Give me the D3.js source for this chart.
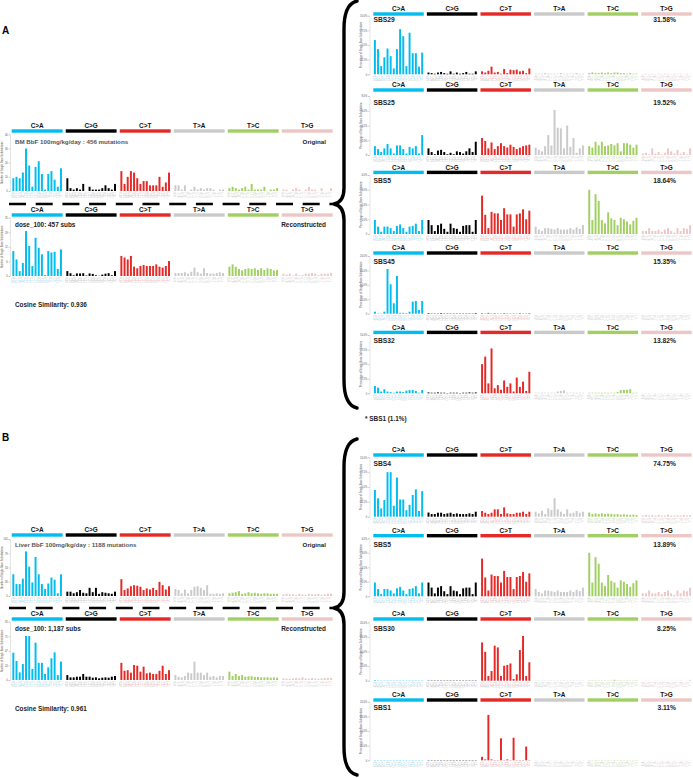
<!DOCTYPE html>
<html><head><meta charset="utf-8">
<script src="https://cdn.jsdelivr.net/npm/d3@7"></script>
<style>body{margin:0;background:#fff;} svg{display:block;font-family:"Liberation Sans",Arial,Helvetica,sans-serif;}</style>
</head><body><svg id="c" width="693" height="778"></svg>
<script>
// ---------------- DATA ----------------
const mutationTypes = ["C>A","C>G","C>T","T>A","T>C","T>G"];
const flank5 = ["A","C","G","T"];
const flank3 = ["A","C","G","T"];

// BM BbF 100mg/kg/day – original counts (456 mutations)
const bmOriginal = [
 9,10,9,13,30,18,3,17,21,12,1,12,14,8,3,16,
 9,2,1,2,1,5,0,3,1,1,1,2,4,2,1,5,
 14,5,10,14,13,9,5,7,7,4,4,4,10,3,6,13,
 4,4,1,4,0,1,3,1,2,1,2,2,1,0,1,1,
 2,3,2,1,2,3,1,5,1,1,1,3,0,1,1,2,
 1,1,0,1,2,1,0,1,3,1,1,0,2,0,0,2];
const bmOriginalTicks = [0,10,20,30,40];
const bmOriginalTickLabels = ["0","10","20","30","40"];

// dose_100 reconstructed (457 subs)
const bmReconstructed = [
 10.7,7.1,2.1,5.6,19.3,12.9,4.3,16.4,12.1,9.3,0.4,10.7,10.1,10.4,3.0,11.4,
 2.1,1.2,0.3,1.1,1.1,1.2,0.2,1.1,0.9,0.3,0.1,0.6,1.0,1.2,0.3,2.1,
 8.6,7.9,7.1,8.6,4.0,3.3,4.3,4.7,4.3,4.3,4.3,5.0,4.0,3.6,4.3,6.4,
 1.3,1.3,1.3,1.6,1.0,1.8,3.6,1.6,1.0,3.3,1.3,1.0,1.0,1.3,1.6,1.3,
 4.0,5.0,4.0,3.0,2.4,3.0,3.3,3.0,3.3,2.6,3.3,2.6,3.3,3.0,2.4,2.6,
 1.0,0.6,1.0,0.3,1.0,0.3,0.4,1.0,1.0,1.3,1.0,0.4,1.0,1.0,1.0,1.3];
const bmReconTicks = [0,6.25,12.5,18.75,25];
const bmReconTickLabels = ["0","6","12","19","25"];

// Liver BbF 100mg/kg/day – original counts (1188 mutations)
const liverOriginal = [
 40,22,22,32,82,54,25,72,40,22,13,23,34,30,5,40,
 8,8,5,7,11,6,5,15,7,15,4,7,6,5,4,8,
 31,11,14,18,20,19,17,11,14,12,15,11,26,20,12,18,
 13,11,5,12,5,11,17,18,15,11,20,4,4,5,4,5,
 5,6,7,9,4,5,7,5,6,5,4,5,5,4,4,4,
 3,4,3,3,2,4,3,2,4,3,3,4,2,3,4,4];
const liverOriginalTicks = [0,26.25,52.5,78.75,105];
const liverOriginalTickLabels = ["0","26","53","79","105"];

// Liver dose_100 reconstructed (1,187 subs)
const liverReconstructed = [
 44.5,31,12.5,26,71.7,71.7,18,60.8,28,28,9.8,20.6,35.3,45,8,30,
 8,4.3,4.3,5.4,5.4,9.8,5.4,5.4,3.8,4.3,2.7,3.8,4.3,3.8,5.4,6.5,
 28,15,16,12,24.4,23.3,13.6,21.7,10.9,12,9.8,9.8,15,23.3,9.8,16,
 8,5.4,4.3,6.5,12,10.9,30,12,12,8,12,5.4,6.5,4.3,6.5,6.5,
 13.6,6.5,9.8,6.5,8,5.4,6,6,5,5,4.3,4.3,4.5,3.8,4.3,3.8,
 2.7,2.2,2.2,2.7,3.3,2.7,4.3,2.7,2.2,3.3,2.2,2.2,2.7,3.3,3.3,3.3];
const liverReconTicks = [0,23.75,47.5,71.25,95];
const liverReconTickLabels = ["0","24","47","71","95"];

// COSMIC signatures (percent of SBS)
const sbs29 = [
 5.85,4.3,1.4,2.9,4.4,3.1,1.0,4.3,7.7,6.5,1.4,7.1,3.6,3.6,1.3,3.7,
 0.3,0.2,0.1,0.3,0.4,0.2,0.1,0.5,0.1,0.3,0.1,0.2,0.4,0.1,0.1,0.5,
 0.5,0.3,0.6,1.3,0.3,0.4,0.1,0.9,0.2,0.8,0.7,0.8,0.5,0.6,0.2,1.0,
 0.1,0.1,0.1,0.2,0.1,0.1,0.1,0.1,0.2,0.1,0.1,0.1,0.1,0.2,0.1,0.1,
 0.2,0.3,0.2,0.2,0.3,0.2,0.3,0.2,0.3,0.3,0.2,0.2,0.1,0.2,0.1,0.1,
 0.05,0.1,0.05,0.1,0.05,0.1,0.05,0.1,0.1,0.05,0.1,0.05,0.1,0.05,0.1,0.05];
const sbs25 = [
 1.2,0.8,0.4,0.9,1.5,0.9,0.2,1.3,1.3,0.8,0.2,1.1,0.9,1.2,0.2,2.7,
 0.9,0.4,0.1,0.6,0.7,0.4,0.1,0.3,0.1,0.5,0.4,0.2,0.5,0.9,0.4,1.8,
 2.3,1.9,0.9,1.7,0.8,1.2,1.6,1.2,1.0,1.4,1.1,0.8,1.0,1.2,1.3,1.4,
 1.0,0.7,0.5,1.2,2.7,1.3,6.1,3.7,3.6,0.9,4.0,1.1,2.3,0.3,0.9,1.3,
 1.2,1.0,1.8,1.3,1.8,1.2,1.3,1.5,1.3,1.6,0.5,1.6,1.6,1.4,1.0,1.4,
 0.2,0.3,0.1,0.9,0.2,0.4,0.1,0.3,0.9,0.5,0.2,0.7,0.2,0.4,0.1,0.9];
const sbs5 = [
 0.95,0.5,0.15,0.5,0.5,0.4,0.2,0.55,0.65,0.4,0.15,0.5,0.55,0.7,0.2,0.95,
 0.95,0.6,0.2,0.6,0.7,0.35,0.15,0.7,0.4,0.35,0.15,0.55,0.6,0.6,0.15,0.95,
 2.6,1.3,0.4,1.5,1.4,1.4,0.95,1.75,1.33,1.33,0.5,1.33,1.4,1.67,1.0,1.58,
 0.5,0.3,0.2,0.4,0.4,0.35,0.3,0.4,0.3,0.3,0.3,0.4,0.3,0.45,0.35,0.6,
 3.0,0.95,2.7,2.24,0.95,0.72,1.47,1.06,0.95,0.6,1.1,1.0,0.85,0.65,0.9,1.1,
 0.2,0.2,0.4,0.2,0.2,0.3,0.15,0.3,0.4,0.2,0.1,0.4,0.2,0.4,0.35,0.6];
const sbs45 = [
 0.7,0.1,0.1,0.7,15.5,10.2,3.6,13.1,0.3,0.3,0.2,0.7,4.2,4.4,1.3,4.4,
 0.2,0.1,0.1,0.1,0.2,0.1,0.1,0.1,0.1,0.1,0.1,0.1,0.1,0.1,0.1,0.2,
 0.2,0.1,0.3,0.1,0.2,0.1,0.1,0.2,0.1,0.1,0.1,0.1,0.2,0.1,0.1,0.2,
 0.05,0.05,0.05,0.05,0.05,0.05,0.05,0.05,0.05,0.05,0.05,0.05,0.05,0.05,0.05,0.05,
 0.05,0.05,0.05,0.05,0.05,0.05,0.05,0.05,0.05,0.05,0.05,0.05,0.05,0.05,0.05,0.05,
 0.05,0.05,0.05,0.05,0.05,0.05,0.05,0.05,0.05,0.05,0.05,0.05,0.05,0.05,0.05,0.05];
const sbs32 = [
 1.26,0.97,0.3,0.7,0.3,0.2,0.1,0.3,0.3,0.2,0.45,0.55,0.55,0.4,0.1,0.55,
 0.15,0.1,0.1,0.15,0.1,0.1,0.05,0.1,0.1,0.1,0.05,0.1,0.1,0.15,0.1,0.15,
 5.0,6.3,1.7,7.7,0.86,1.4,0.6,2.2,1.1,1.7,0.3,2.7,1.1,2.0,0.4,3.7,
 0.1,0.1,0.1,0.1,0.1,0.1,0.1,0.3,0.4,0.5,0.1,0.1,0.1,0.1,0.1,0.1,
 0.1,0.1,0.1,0.1,0.1,0.1,0.1,0.1,0.1,0.2,0.55,0.6,0.6,0.7,0.1,0.1,
 0.05,0.05,0.05,0.05,0.05,0.05,0.05,0.05,0.05,0.05,0.05,0.05,0.05,0.05,0.05,0.05];
const sbs4 = [
 4.5,3.1,1.4,2.8,7.5,7.5,1.85,6.6,2.9,2.9,1.1,2.0,3.65,4.6,0.96,4.3,
 0.7,0.45,0.45,0.67,0.67,0.45,0.56,0.67,0.45,0.56,0.45,0.45,0.45,0.56,0.45,0.84,
 0.96,0.67,0.45,0.67,1.24,1.24,0.45,1.57,0.56,0.45,0.45,0.67,0.67,0.84,0.45,0.84,
 0.84,0.56,1.0,0.45,1.4,1.12,3.1,1.24,0.84,0.45,1.24,0.56,0.67,0.96,0.67,0.84,
 0.7,0.45,0.56,0.45,0.56,0.45,0.5,0.45,0.4,0.45,0.35,0.4,0.35,0.3,0.35,0.3,
 0.2,0.3,0.2,0.25,0.2,0.3,0.2,0.2,0.35,0.2,0.2,0.25,0.2,0.3,0.2,0.25];
const sbs30 = [
 0.2,0.1,0.1,0.1,0.1,0.1,0.1,0.1,0.1,0.1,0.1,0.1,0.1,0.1,0.1,0.1,
 0.1,0.1,0.1,0.1,0.1,0.1,0.1,0.1,0.1,0.1,0.1,0.1,0.1,0.1,0.1,0.1,
 13.1,9.9,1.6,3.3,12.0,11.4,1.6,5.1,5.4,5.9,0.6,2.2,10.5,15.3,1.6,6.3,
 0.1,0.1,0.1,0.1,0.1,0.1,0.1,0.1,0.1,0.1,0.1,0.1,0.1,0.1,0.1,0.1,
 0.1,0.1,0.1,0.1,0.1,0.1,0.1,0.1,0.3,0.1,0.1,0.1,0.1,0.1,0.1,0.1,
 0.05,0.05,0.05,0.05,0.05,0.05,0.05,0.05,0.05,0.05,0.05,0.05,0.05,0.05,0.05,0.3];
const sbs1 = [
 0.1,0.1,0.1,0.1,0.1,0.1,0.1,0.1,0.1,0.1,0.1,0.1,0.1,0.1,0.1,0.1,
 0.1,0.1,0.1,0.1,0.1,0.1,0.1,0.1,0.1,0.1,0.1,0.1,0.1,0.1,0.1,0.1,
 1.2,0.3,15.5,0.3,0.1,0.1,7.5,0.1,0.3,0.1,7.7,0.1,0.1,0.1,4.7,0.1,
 0.05,0.05,0.05,0.05,0.05,0.05,0.05,0.05,0.05,0.05,0.05,0.05,0.05,0.05,0.05,0.05,
 0.1,0.1,0.1,0.1,0.1,0.1,0.1,0.1,0.1,0.1,0.1,0.1,0.1,0.1,0.1,0.1,
 0.05,0.05,0.05,0.05,0.05,0.05,0.05,0.05,0.05,0.05,0.05,0.05,0.05,0.05,0.05,0.05];

const sigTicks10 = [0,2.5,5,7.5,10];
const sigTicks8 = [0,2,4,6,8];
const sigTicks4 = [0,1,2,3,4];
const sigTicks20 = [0,5,10,15,20];

// ---------------- STYLE / LAYOUT ----------------
const typeColors = ["#03BDEF","#010101","#E42926","#CBCACA","#A2CF63","#ECC7C5"];
const FONT = '"Liberation Sans",Arial,Helvetica,sans-serif';
const svg = d3.select("#c");
const colL = {x0:11.7, x1:332.7, axisX:10, ylabX:3, titleX:15, rightX:326};
const colR = {x0:373.3, x1:691.7, axisX:369.5, ylabX:361.5, titleX:373.5, rightX:676};

function contextLabel(t,i){
  const mid = t[0];
  return [flank5[Math.floor(i/4)], mid, flank3[i%4]];
}

function drawPanel(p){
  const c = p.col;
  const g = svg.append("g");
  const outer = d3.scaleBand().domain(mutationTypes).range([c.x0,c.x1]).paddingInner(0.058);
  const inner = d3.scaleBand().domain(d3.range(16)).range([0,outer.bandwidth()]).paddingInner(0.38).paddingOuter(0.2);
  const y = d3.scaleLinear().domain([0,p.ticks[p.ticks.length-1]]).range([p.yBase,p.yTop]);

  // header colour bars and labels
  g.selectAll("rect.hdr").data(mutationTypes).join("rect")
    .attr("x",d=>outer(d)).attr("y",p.barTop).attr("width",outer.bandwidth()).attr("height",3.4)
    .attr("fill",(d,i)=>typeColors[i]);
  g.selectAll("text.hdr").data(mutationTypes).join("text")
    .attr("x",d=>outer(d)+outer.bandwidth()/2).attr("y",p.barTop-1.2)
    .attr("text-anchor","middle").attr("font-size",6.4).attr("fill","#111").attr("font-weight","bold")
    .text(d=>d);

  // y axis
  const ax = d3.axisLeft(y).tickValues(p.ticks).tickSize(1.4).tickPadding(0.8)
     .tickFormat((d,i)=>p.tickLabels[i]);
  const ag = g.append("g").attr("transform",`translate(${c.axisX},0)`).call(ax);
  ag.select(".domain").attr("stroke","#bbb").attr("stroke-width",0.4);
  ag.selectAll(".tick line").attr("stroke","#888").attr("stroke-width",0.4);
  ag.selectAll(".tick text").attr("font-size",2.6).attr("fill","#555").attr("font-family",FONT);
  g.append("text").attr("transform",`translate(${c.ylabX},${(p.yTop+p.yBase)/2}) rotate(-90)`)
    .attr("text-anchor","middle").attr("font-size",2.6).attr("fill","#555").text(p.ylab);

  // bars
  const items = p.data.map((v,k)=>({v, t:mutationTypes[Math.floor(k/16)], i:k%16, ti:Math.floor(k/16)}));
  g.selectAll("rect.bar").data(items).join("rect")
    .attr("x",d=>outer(d.t)+inner(d.i)).attr("width",inner.bandwidth())
    .attr("y",d=>y(d.v)).attr("height",d=>p.yBase-y(d.v))
    .attr("fill",d=>typeColors[d.ti]);

  // trinucleotide context labels
  const lab = g.selectAll("text.ctx").data(items).join("text")
    .attr("transform",d=>`translate(${outer(d.t)+inner(d.i)+inner.bandwidth()/2+1},${p.yBase+1.2}) rotate(-90)`)
    .attr("text-anchor","end").attr("font-size",2.7).attr("opacity",0.55);
  lab.each(function(d){
    const L3 = contextLabel(d.t,d.i);
    const s = d3.select(this);
    s.append("tspan").attr("fill","#aaa").text(L3[0]);
    s.append("tspan").attr("fill",typeColors[d.ti]==="#010101"?"#555":typeColors[d.ti]).text(L3[1]);
    s.append("tspan").attr("fill","#aaa").text(L3[2]);
  });

  // titles
  g.append("text").attr("x",c.titleX).attr("y",p.titleY+2.3).attr("font-size",p.titleSize||6.4)
    .attr("font-weight","bold").attr("fill",p.titleFill||"#222").text(p.title);
  g.append("text").attr("x",c.rightX).attr("y",p.titleY+2.3).attr("font-size",p.titleSize||6.4)
    .attr("text-anchor","end").attr("font-weight","bold").attr("fill","#222").text(p.right);
}

const pctLabels = t=>t.map(v=>v===0?"0":v.toFixed(1)+"%");
const numYL = "Number of Single Base Substitutions";
const pctYL = "Percentage of Single Base Substitutions";

const panels = [
 {col:colL,data:bmOriginal,ticks:bmOriginalTicks,tickLabels:bmOriginalTickLabels,barTop:129.3,titleY:141.7,yTop:134.3,yBase:191,
  title:"BM BbF 100mg/kg/day : 456 mutations",titleFill:"#555",right:"Original",ylab:numYL,titleSize:6.2},
 {col:colL,data:bmReconstructed,ticks:bmReconTicks,tickLabels:bmReconTickLabels,barTop:213.3,titleY:224.3,yTop:217.7,yBase:276,
  title:"dose_100: 457 subs",right:"Reconstructed",ylab:numYL,titleSize:6.4},
 {col:colR,data:sbs29,ticks:sigTicks10,tickLabels:pctLabels(sigTicks10),barTop:12.3,titleY:20,yTop:15.7,yBase:74.3,title:"SBS29",right:"31.58%",ylab:pctYL,titleSize:6.7},
 {col:colR,data:sbs25,ticks:sigTicks8,tickLabels:pctLabels(sigTicks8),barTop:88.3,titleY:102.3,yTop:96,yBase:155,title:"SBS25",right:"19.52%",ylab:pctYL,titleSize:6.7},
 {col:colR,data:sbs5,ticks:sigTicks4,tickLabels:pctLabels(sigTicks4),barTop:170.7,titleY:180.7,yTop:175,yBase:234,title:"SBS5",right:"18.64%",ylab:pctYL,titleSize:6.7},
 {col:colR,data:sbs45,ticks:sigTicks20,tickLabels:pctLabels(sigTicks20),barTop:251.3,titleY:261.7,yTop:256,yBase:313.7,title:"SBS45",right:"15.35%",ylab:pctYL,titleSize:6.7},
 {col:colR,data:sbs32,ticks:sigTicks10,tickLabels:pctLabels(sigTicks10),barTop:330.7,titleY:341,yTop:335,yBase:393.3,title:"SBS32",right:"13.82%",ylab:pctYL,titleSize:6.7},
 {col:colL,data:liverOriginal,ticks:liverOriginalTicks,tickLabels:liverOriginalTickLabels,barTop:533.3,titleY:544.3,yTop:539,yBase:596,
  title:"Liver BbF 100mg/kg/day : 1188 mutations",titleFill:"#555",right:"Original",ylab:numYL,titleSize:6.2},
 {col:colL,data:liverReconstructed,ticks:liverReconTicks,tickLabels:liverReconTickLabels,barTop:617.3,titleY:628.7,yTop:621.7,yBase:680,
  title:"dose_100: 1,187 subs",right:"Reconstructed",ylab:numYL,titleSize:6.4},
 {col:colR,data:sbs4,ticks:sigTicks10,tickLabels:pctLabels(sigTicks10),barTop:453.3,titleY:464,yTop:457.3,yBase:516.7,title:"SBS4",right:"74.75%",ylab:pctYL,titleSize:6.7},
 {col:colR,data:sbs5,ticks:sigTicks4,tickLabels:pctLabels(sigTicks4),barTop:534,titleY:544.3,yTop:538.3,yBase:596.3,title:"SBS5",right:"13.89%",ylab:pctYL,titleSize:6.7},
 {col:colR,data:sbs30,ticks:sigTicks20,tickLabels:pctLabels(sigTicks20),barTop:617.3,titleY:628.3,yTop:622.3,yBase:680.7,title:"SBS30",right:"8.25%",ylab:pctYL,titleSize:6.7},
 {col:colR,data:sbs1,ticks:sigTicks20,tickLabels:pctLabels(sigTicks20),barTop:698.3,titleY:707.3,yTop:701.7,yBase:760.3,title:"SBS1",right:"3.11%",ylab:pctYL,titleSize:6.7}
];
panels.forEach(drawPanel);

// dashed separators
[204,608].forEach(yy=>{
  svg.append("line").attr("x1",9).attr("x2",333).attr("y1",yy).attr("y2",yy)
    .attr("stroke","#000").attr("stroke-width",2.4).attr("stroke-dasharray","17 9.7");
});

// braces
function brace(y0,ym,y1){
  const p = d3.path();
  p.moveTo(357,y0);
  p.quadraticCurveTo(344,y0+3,344,y0+28);
  p.lineTo(344,ym-16);
  p.quadraticCurveTo(344,ym-2,334,ym);
  p.quadraticCurveTo(344,ym+2,344,ym+16);
  p.lineTo(344,y1-28);
  p.quadraticCurveTo(344,y1-3,357,y1);
  svg.append("path").attr("d",p.toString()).attr("fill","none").attr("stroke","#000")
    .attr("stroke-width",3.4).attr("stroke-linecap","round").attr("stroke-linejoin","round");
}
brace(1,204,408);
brace(439,608,775);

// other texts
svg.append("text").attr("x",2).attr("y",34).attr("font-size",10).attr("font-weight","bold").text("A");
svg.append("text").attr("x",2).attr("y",441).attr("font-size",10).attr("font-weight","bold").text("B");
svg.append("text").attr("x",15).attr("y",306.5).attr("font-size",6.4).attr("font-weight","bold").attr("fill","#222").text("Cosine Similarity: 0.936");
svg.append("text").attr("x",15).attr("y",710.5).attr("font-size",6.4).attr("font-weight","bold").attr("fill","#222").text("Cosine Similarity: 0.961");
svg.append("text").attr("x",365).attr("y",420.5).attr("font-size",6.4).attr("font-weight","bold").attr("fill","#222").text("* SBS1 (1.1%)");
</script></body></html>
